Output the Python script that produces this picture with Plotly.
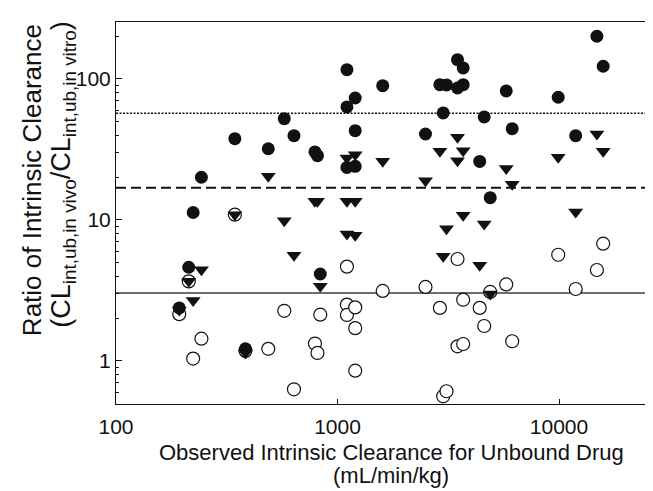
import plotly.graph_objects as go

# Observed intrinsic clearance for unbound drug (mL/min/kg), one entry per compound
clearance = [193, 213, 223, 243, 344, 384, 487, 575, 636, 791, 812, 836,
             1103, 1103, 1103, 1202, 1202, 1202, 1600, 2496, 2899, 3001, 3105,
             3482, 3482, 3693, 3693, 4385, 4596, 4892, 5777, 6147, 9917, 11895,
             14830, 15830]

# Ratio of intrinsic clearance, three methods (filled circle, filled triangle, open circle)
ratio_filled = [2.38, 4.62, 11.3, 20.1, 37.7, 1.22, 32.0, 52.3, 39.6, 30.4, 28.6, 4.14,
                116.4, 63.3, 23.6, 73.3, 43.0, 24.0, 89.6, 40.7, 91.1, 57.4, 90.7,
                137.1, 86.3, 119.7, 91.1, 26.0, 53.8, 14.4, 82.2, 44.4, 74.2, 39.6,
                200.9, 123.1]
ratio_triangle = [2.30, 3.67, 2.68, 4.44, 10.9, 1.14, 20.4, 9.89, 5.62, 13.6, 13.6, 3.39,
                  27.5, 13.6, 7.96, 29.0, 13.6, 7.79, 26.1, 19.0, 30.7, 5.53, 8.68,
                  38.6, 26.3, 31.0, 10.8, 4.77, 9.37, 2.99, 23.2, 17.9, 27.8, 11.4,
                  40.7, 30.7]
ratio_open = [2.15, 3.67, 1.04, 1.44, 10.9, 1.18, 1.22, 2.27, 0.63, 1.33, 1.14, 2.13,
              4.67, 2.51, 2.12, 2.40, 1.71, 0.854, 3.14, 3.35, 2.38, 0.562, 0.61,
              5.29, 1.27, 2.72, 1.32, 2.38, 1.77, 3.09, 3.49, 1.38, 5.67, 3.24,
              4.42, 6.79]

# Reference levels (dotted, dashed, solid)
ref_levels = [57.2, 16.9, 3.03]

x_tick_vals = [100, 1000, 10000]
x_tick_text = ["100", "1000", "10000"]
y_tick_vals = [1, 10, 100]
y_tick_text = ["1", "10", "100"]
y_minor_vals = [0.5, 0.6, 0.7, 0.8, 0.9, 2, 3, 4, 5, 6, 7, 8, 9,
                20, 30, 40, 50, 60, 70, 80, 90, 200]

FONT = "Liberation Sans, Arial, sans-serif"
INK = "#111111"

fig = go.Figure()
fig.add_trace(go.Scatter(
    x=clearance, y=ratio_open, mode="markers",
    marker=dict(symbol="circle", size=13, color="white",
                line=dict(color=INK, width=1.2))))
fig.add_trace(go.Scatter(
    x=clearance, y=ratio_filled, mode="markers",
    marker=dict(symbol="circle", size=13, color=INK, line=dict(width=0))))
fig.add_trace(go.Scatter(
    x=clearance, y=ratio_triangle, mode="markers",
    marker=dict(symbol="triangle-down", size=13, color=INK, line=dict(width=0))))

line_styles = [dict(color=INK, width=1.5, dash="2px,1.5px"),
               dict(color=INK, width=2, dash="10px,5px"),
               dict(color="#6e6e6e", width=2, dash="solid")]
for lvl, st in zip(ref_levels, line_styles):
    fig.add_hline(y=lvl, line=st, layer="below")

fig.update_layout(
    width=653, height=491,
    margin=dict(l=108, r=0, t=14, b=95),
    paper_bgcolor="white", plot_bgcolor="white",
    showlegend=False,
    font=dict(family=FONT, color=INK),
    xaxis=dict(type="log", range=[2, 4.4605],
               tickvals=x_tick_vals, ticktext=x_tick_text,
               ticks="inside", ticklen=5, tickwidth=1, tickcolor=INK,
               showline=True, linecolor=INK, linewidth=1, mirror=True,
               showgrid=False, zeroline=False,
               tickfont=dict(family=FONT, size=21, color=INK),
               ticklabelstandoff=4),
    yaxis=dict(type="log", range=[-0.305, 2.404],
               tickvals=y_tick_vals, ticktext=y_tick_text,
               ticks="inside", ticklen=6, tickwidth=1, tickcolor=INK,
               showline=True, linecolor=INK, linewidth=1, mirror="ticks",
               showgrid=False, zeroline=False,
               minor=dict(tickvals=y_minor_vals, ticks="inside", ticklen=3,
                          tickwidth=1, tickcolor=INK, showgrid=False),
               tickfont=dict(family=FONT, size=21, color=INK),
               ticklabelstandoff=0),
)

fig.add_annotation(text="Observed Intrinsic Clearance for Unbound Drug",
                   xref="paper", yref="paper", x=0.505, y=0, xanchor="center",
                   yanchor="middle", yshift=-48, showarrow=False,
                   font=dict(family=FONT, size=22, color=INK))
fig.add_annotation(text="(mL/min/kg)",
                   xref="paper", yref="paper", x=0.505, y=0, xanchor="center",
                   yanchor="middle", yshift=-71, showarrow=False,
                   font=dict(family=FONT, size=22, color=INK))
fig.add_annotation(text="Ratio of Intrinsic Clearance",
                   xref="paper", yref="paper", x=0, y=0.586, xanchor="center",
                   yanchor="middle", xshift=-84, textangle=-90, showarrow=False,
                   font=dict(family=FONT, size=26, color=INK))
fig.add_annotation(text="(CL<sub>int,ub,in vivo</sub>/CL<sub>int,ub,in vitro</sub>)",
                   xref="paper", yref="paper", x=0, y=0.6, xanchor="center",
                   yanchor="middle", xshift=-53, textangle=-90, showarrow=False,
                   font=dict(family=FONT, size=27, color=INK))

fig.write_html("out.html")
